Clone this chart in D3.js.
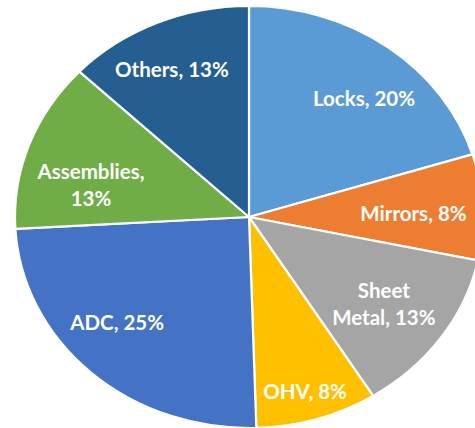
<!DOCTYPE html>
<html><head><meta charset="utf-8">
<script src="https://cdn.jsdelivr.net/npm/d3@7"></script>
<style>html,body{margin:0;padding:0;background:#fff;}svg{display:block;}</style>
</head><body>
<script>
const categories = ["Locks", "Mirrors", "Sheet Metal", "OHV", "ADC", "Assemblies", "Others"];
const values = [20.2, 8.1, 12.8, 8.4, 24.6, 13.0, 12.9];
const labels = [["Locks, 20%"], ["Mirrors, 8%"], ["Sheet", "Metal, 13%"], ["OHV, 8%"], ["ADC, 25%"], ["Assemblies,", "13%"], ["Others, 13%"]];
const colors = ["#5B9BD5", "#ED7D31", "#A5A5A5", "#FFC000", "#4472C4", "#70AD47", "#255E91"];
const labelRadius = [0.745, 0.703, 0.709, 0.863, 0.755, 0.692, 0.773];
const labelAngleShift = [4.9, 1.5, 0.7, 0.8, 5.8, -7.5, -2.0];

const W = 475, H = 428, cx = 249, cy = 217, rx = 234, ry = 211;
const svg = d3.select("body").append("svg").attr("width", W).attr("height", H);
const sx = rx / ry;
const g = svg.append("g").attr("transform", `translate(${cx},${cy}) scale(${sx},1)`);
const pie = d3.pie().sort(null).value(d => d)(values);
const arc = d3.arc().innerRadius(0).outerRadius(ry);
g.selectAll("path").data(pie).join("path")
  .attr("d", arc)
  .attr("fill", (d, i) => colors[i])
  .attr("stroke", "#fff").attr("stroke-width", 2.2)
  .attr("vector-effect", "non-scaling-stroke")
  .attr("stroke-linejoin", "round");

const lg = svg.append("g");
pie.forEach((d, i) => {
  const a = (d.startAngle + d.endAngle) / 2 + labelAngleShift[i] * Math.PI / 180;
  const r = ry * labelRadius[i];
  const x = cx + Math.sin(a) * r * sx;
  const y = cy - Math.cos(a) * r;
  const lines = labels[i];
  const lh = 27;
  const t = lg.append("text").attr("text-anchor", "middle")
    .attr("font-family", "Lato, 'Open Sans', sans-serif").attr("font-weight", "bold")
    .attr("font-size", 20.5).attr("fill", "#fff");
  lines.forEach((s, k) => {
    t.append("tspan").attr("x", x).attr("y", y + (k - (lines.length - 1) / 2) * lh)
      .attr("dy", "0.35em").text(s);
  });
});
</script>
</body></html>
